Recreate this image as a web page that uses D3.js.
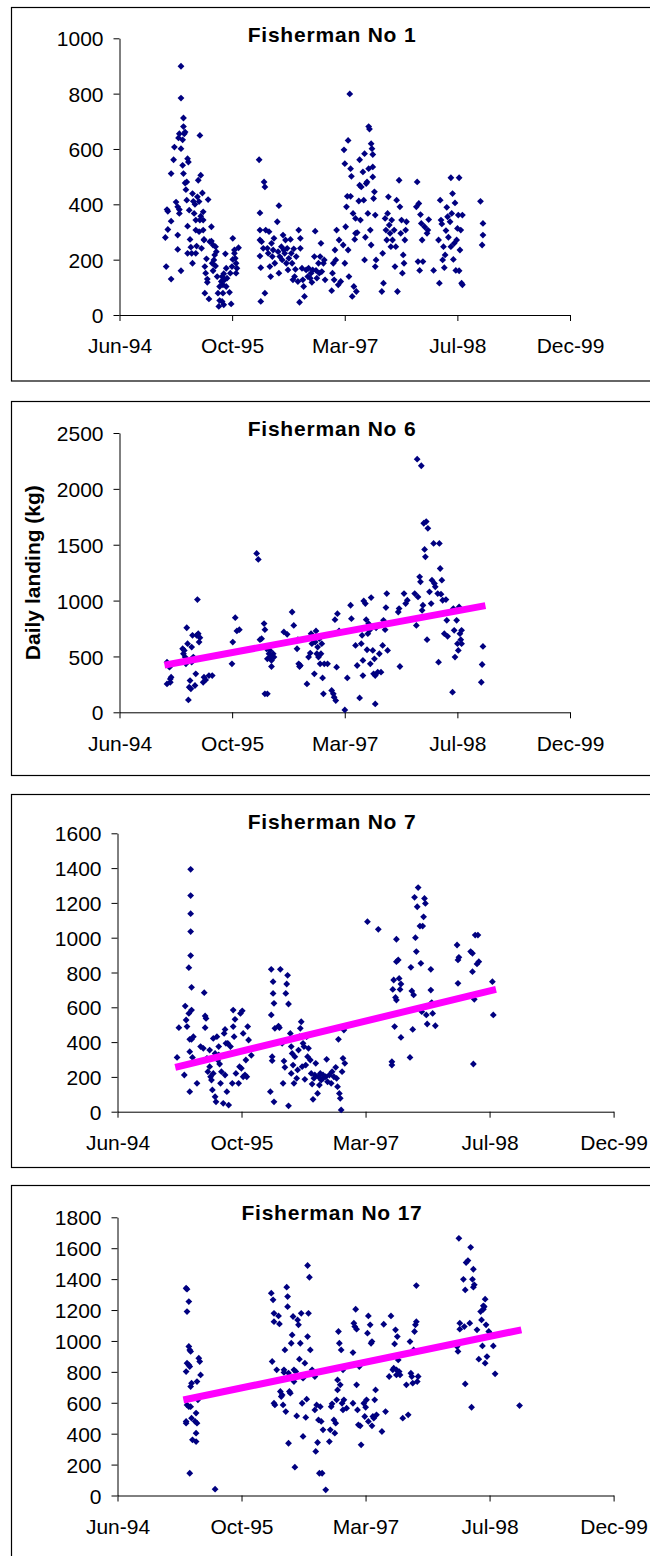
<!DOCTYPE html>
<html>
<head>
<meta charset="utf-8">
<script src="https://cdn.jsdelivr.net/npm/d3@7"></script>
<style>
  html, body { margin: 0; padding: 0; background: #fff; }
  svg { display: block; }
</style>
</head>
<body>
<svg id="chart" width="650" height="1556"></svg>
<script>
// ---- Data -------------------------------------------------------------
// x values are decimal years, y values are daily landings in kg.

const axisStart = "1994-06-15";
const axisEnd = "1999-12-06";
const dateTicks = ["1994-06-15", "1995-10-28", "1997-03-11", "1998-07-24", "1999-12-06"];

const titles = ["Fisherman No 1", "Fisherman No 6", "Fisherman No 7", "Fisherman No 17"];
const yMaxima = [1000, 2500, 1600, 1800];
const yTickSteps = [200, 500, 200, 200];
const yAxisTitle = "Daily landing (kg)";

const fisher1 = [
  [1995.01,280],[1995.02,175],[1995.03,381],[1995.04,375],[1995.04,309],[1995.08,130],[1995.08,339],[1995.08,511],
  [1995.11,561],[1995.12,607],[1995.14,408],[1995.16,237],[1995.16,289],[1995.16,391],[1995.18,381],[1995.18,367],
  [1995.17,640],[1995.18,655],[1995.20,160],[1995.20,899],[1995.20,784],[1995.20,601],[1995.22,633],[1995.22,541],
  [1995.23,712],[1995.23,681],[1995.23,511],[1995.24,655],[1995.25,661],[1995.25,477],[1995.26,453],[1995.27,481],
  [1995.27,415],[1995.28,223],[1995.28,321],[1995.28,565],[1995.29,553],[1995.30,379],[1995.31,273],[1995.32,245],
  [1995.33,223],[1995.34,187],[1995.34,439],[1995.35,411],[1995.36,367],[1995.37,400],[1995.38,223],[1995.38,307],
  [1995.38,343],[1995.39,249],[1995.40,427],[1995.41,487],[1995.42,410],[1995.42,301],[1995.43,649],[1995.43,343],
  [1995.44,505],[1995.44,357],[1995.45,241],[1995.46,441],[1995.47,343],[1995.47,373],[1995.47,307],[1995.48,271],
  [1995.48,273],[1995.49,175],[1995.49,79],[1995.50,151],[1995.51,203],[1995.52,130],[1995.52,118],[1995.53,417],
  [1995.54,58],[1995.55,265],[1995.57,319],[1995.57,267],[1995.58,187],[1995.59,160],[1995.59,253],[1995.60,199],
  [1995.61,217],[1995.62,247],[1995.62,177],[1995.63,229],
  [1995.64,139],[1995.65,79],[1995.66,31],[1995.67,52],[1995.67,103],[1995.69,121],[1995.70,139],[1995.70,49],
  [1995.71,79],[1995.71,109],[1995.72,149],[1995.72,37],[1995.73,127],[1995.74,221],[1995.75,169],[1995.75,103],
  [1995.76,133],[1995.79,82],[1995.80,151],[1995.81,40],[1995.82,175],[1995.83,277],[1995.83,201],[1995.85,235],
  [1995.85,223],[1995.86,205],[1995.87,187],[1995.87,151],[1995.88,169],[1995.90,243],
  [1996.15,561],[1996.16,369],[1996.16,307],[1996.16,271],[1996.16,213],[1996.17,171],[1996.17,49],[1996.18,265],
  [1996.20,241],[1996.21,481],[1996.22,463],[1996.22,79],[1996.23,307],[1996.25,241],[1996.26,223],[1996.27,301],
  [1996.28,175],[1996.29,139],[1996.30,259],[1996.31,211],[1996.32,235],[1996.33,277],[1996.34,187],[1996.37,337],
  [1996.38,229],[1996.39,395],[1996.39,151],[1996.40,211],[1996.42,247],[1996.43,199],[1996.44,289],[1996.45,235],
  [1996.46,223],[1996.47,271],[1996.48,187],[1996.49,241],[1996.50,163],[1996.51,205],[1996.53,273],[1996.54,223],
  [1996.55,187],[1996.56,127],[1996.57,239],[1996.58,139],[1996.59,165],[1996.60,211],[1996.62,121],[1996.63,307],
  [1996.64,46],[1996.65,241],[1996.65,277],
  [1996.67,169],[1996.68,127],[1996.69,103],[1996.70,67],[1996.72,163],[1996.74,139],[1996.75,169],[1996.77,133],
  [1996.78,151],[1996.79,118],[1996.80,163],[1996.82,211],[1996.83,303],[1996.84,161],[1996.85,133],[1996.87,187],
  [1996.88,151],[1996.89,211],[1996.90,259],[1996.91,157],[1996.93,187],[1996.94,199],[1996.95,127],[1997.03,88],
  [1997.04,151],[1997.05,187],[1997.06,127],[1997.07,235],[1997.08,199],[1997.09,307],[1997.11,109],[1997.12,271],
  [1997.14,121],
  [1997.17,253],[1997.18,597],[1997.19,187],[1997.19,547],[1997.20,319],[1997.21,391],[1997.22,429],[1997.23,631],
  [1997.23,235],[1997.24,139],[1997.25,799],[1997.26,429],[1997.26,529],[1997.27,501],[1997.28,67],[1997.29,367],
  [1997.30,103],[1997.31,273],[1997.32,349],[1997.32,295],[1997.33,85],[1997.34,298],[1997.36,412],[1997.37,561],
  [1997.37,469],[1997.38,343],[1997.39,463],[1997.41,517],[1997.42,415],[1997.43,199],[1997.43,583],[1997.44,281],
  [1997.45,475],[1997.46,481],[1997.47,367],[1997.48,681],[1997.48,529],[1997.49,672],[1997.50,307],[1997.51,253],
  [1997.51,619],[1997.52,601],[1997.53,535],[1997.53,580],[1997.53,499],[1997.54,421],[1997.55,445],[1997.56,361],
  [1997.56,175],[1997.57,199],
  [1997.64,85],[1997.65,223],[1997.66,115],[1997.68,349],[1997.69,307],[1997.70,271],[1997.71,367],[1997.72,427],
  [1997.73,325],[1997.74,295],[1997.75,247],[1997.76,343],[1997.77,271],[1997.79,307],[1997.80,175],[1997.81,247],
  [1997.82,415],[1997.83,85],[1997.85,487],[1997.86,391],[1997.87,295],[1997.88,343],[1997.89,151],[1997.90,217],
  [1997.91,187],[1997.92,271],[1997.93,307],[1997.94,337],
  [1998.06,391],[1998.07,481],[1998.08,193],[1998.09,403],[1998.10,161],[1998.11,363],[1998.12,331],[1998.13,271],
  [1998.14,193],[1998.16,319],[1998.19,295],[1998.20,307],[1998.21,345],
  [1998.27,161],[1998.33,271],[1998.34,115],[1998.35,415],[1998.36,343],[1998.37,329],[1998.38,199],[1998.39,247],
  [1998.40,171],[1998.41,217],[1998.42,305],[1998.43,389],[1998.44,355],[1998.45,281],[1998.47,337],[1998.48,247],
  [1998.48,496],[1998.49,367],[1998.50,439],[1998.51,201],[1998.52,259],[1998.53,405],[1998.54,161],[1998.55,271],
  [1998.56,313],[1998.57,361],[1998.58,496],[1998.58,160],[1998.59,235],[1998.60,307],[1998.61,115],[1998.62,361],
  [1998.62,109],
  [1998.84,411],[1998.86,253],[1998.87,289],[1998.87,331]
];

const fisher6 = [
  [1995.03,449],[1995.03,254],[1995.06,404],[1995.07,299],[1995.07,269],[1995.08,314],[1995.22,569],[1995.23,524],
  [1995.24,554],[1995.25,494],[1995.26,434],[1995.27,757],[1995.28,614],[1995.29,111],[1995.30,225],[1995.31,284],
  [1995.32,210],[1995.33,584],[1995.33,449],[1995.34,689],[1995.35,494],[1995.37,240],[1995.38,344],[1995.39,689],
  [1995.40,1009],[1995.41,704],[1995.42,629],[1995.43,668],[1995.47,269],[1995.48,314],[1995.50,290],[1995.54,329],
  [1995.58,329],
  [1995.82,434],[1995.83,629],[1995.86,847],[1995.88,728],[1995.91,740],
  [1996.12,1422],[1996.14,1368],[1996.16,650],[1996.18,659],[1996.21,794],[1996.22,740],[1996.22,165],[1996.24,569],
  [1996.25,165],[1996.25,479],[1996.27,524],[1996.28,554],[1996.29,494],[1996.30,410],[1996.30,464],[1996.32,524],
  [1996.33,494],
  [1996.45,719],[1996.49,698],[1996.55,898],[1996.57,778],[1996.61,569],[1996.62,650],[1996.63,434],[1996.64,410],
  [1996.65,419],
  [1996.73,254],[1996.75,494],[1996.77,530],[1996.78,704],[1996.79,614],[1996.81,659],[1996.82,344],[1996.83,629],
  [1996.84,728],[1996.85,524],[1996.86,584],[1996.87,494],[1996.88,659],[1996.89,434],[1996.90,524],[1996.91,614],
  [1996.92,308],[1996.93,165],[1996.94,434],[1996.98,434],[1997.03,195],[1997.05,165],[1997.06,135],[1997.07,829],
  [1997.08,105],[1997.09,404],[1997.10,883],[1997.12,728],[1997.19,21],[1997.22,308],[1997.26,958],[1997.27,838],
  [1997.32,599],[1997.34,419],[1997.37,129],[1997.39,614],[1997.40,689],[1997.41,464],[1997.41,329],[1997.42,997],
  [1997.44,973],[1997.45,829],[1997.46,560],[1997.47,704],[1997.48,793],[1997.49,734],[1997.50,434],[1997.51,1027],
  [1997.53,554],[1997.54,344],[1997.55,479],[1997.56,329],[1997.56,75],[1997.57,757],[1997.59,359],[1997.61,524],
  [1997.63,359],[1997.65,599],[1997.66,823],[1997.68,740],[1997.69,937],[1997.70,1063],[1997.71,554],
  [1997.84,898],[1997.85,928],[1997.86,410],[1997.91,1063],[1997.93,973],[1997.95,1003],[1998.04,1063],[1998.06,778],
  [1998.07,2266],[1998.08,1033],[1998.10,1213],[1998.11,1168],[1998.12,2207],[1998.13,913],[1998.14,958],[1998.15,1692],
  [1998.16,1458],[1998.17,1392],[1998.18,1707],[1998.19,650],[1998.20,1647],[1998.22,1078],[1998.24,973],[1998.25,1183],
  [1998.27,1512],[1998.28,1153],[1998.29,1123],[1998.32,1063],[1998.33,449],[1998.34,1512],[1998.35,1287],[1998.36,1057],
  [1998.37,1183],[1998.38,1003],[1998.40,704],[1998.42,1009],[1998.43,823],[1998.44,680],[1998.50,180],[1998.51,928],
  [1998.52,734],[1998.53,494],[1998.55,823],[1998.56,614],[1998.57,554],[1998.58,943],[1998.59,704],[1998.60,650],
  [1998.61,734],[1998.61,614],
  [1998.85,269],[1998.86,428],[1998.87,590]
];

const fisher7 = [
  [1995.11,312],[1995.13,483],[1995.19,211],[1995.20,607],[1995.21,527],[1995.22,489],[1995.24,565],[1995.24,828],
  [1995.25,115],[1995.25,345],[1995.25,416],[1995.26,1393],[1995.26,1242],[1995.26,1138],[1995.26,1035],[1995.26,897],
  [1995.27,715],[1995.27,584],[1995.27,416],[1995.28,312],[1995.29,431],[1995.33,163],[1995.37,374],[1995.40,364],
  [1995.41,684],[1995.42,483],[1995.42,550],[1995.43,536],[1995.44,307],[1995.45,230],[1995.47,354],[1995.47,259],
  [1995.48,201],[1995.49,182],[1995.50,125],[1995.51,421],[1995.51,220],[1995.53,86],[1995.53,335],[1995.54,57],
  [1995.55,431],[1995.56,297],[1995.57,374],[1995.57,326],[1995.58,274],[1995.59,163],[1995.60,230],[1995.62,48],
  [1995.63,450],[1995.64,473],[1995.64,211],[1995.65,393],[1995.66,115],[1995.67,393],[1995.68,38],[1995.70,374],
  [1995.72,163],[1995.73,584],[1995.73,489],[1995.74,431],[1995.75,531],[1995.76,220],[1995.79,163],[1995.80,259],
  [1995.81,565],[1995.82,249],[1995.83,580],[1995.84,450],[1995.84,201],[1995.86,211],[1995.87,297],[1995.88,201],
  [1995.89,489],[1995.90,412],[1995.93,324],
  [1996.14,115],[1996.15,818],[1996.15,556],[1996.16,293],[1996.16,316],[1996.17,747],[1996.17,680],[1996.18,623],
  [1996.18,57],[1996.19,479],[1996.23,492],[1996.24,483],[1996.25,818],[1996.27,393],[1996.28,163],[1996.29,291],
  [1996.30,255],[1996.31,680],[1996.32,734],[1996.33,784],[1996.34,619],[1996.34,34],[1996.36,450],[1996.37,374],
  [1996.37,220],[1996.38,335],[1996.39,268],[1996.40,163],[1996.41,316],[1996.43,192],[1996.44,240],[1996.45,354],
  [1996.46,431],[1996.47,479],[1996.48,517],[1996.49,259],[1996.50,393],[1996.51,374],[1996.52,186],[1996.53,268],
  [1996.54,431],[1996.55,316],[1996.56,364],[1996.58,297],[1996.59,220],[1996.60,159],[1996.61,71],[1996.62,192],
  [1996.63,211],[1996.64,278],[1996.66,105],[1996.67,201],[1996.68,153],[1996.69,220],[1996.70,182],[1996.72,211],
  [1996.72,192],[1996.75,201],[1996.76,301],[1996.77,172],[1996.79,211],[1996.81,163],[1996.82,230],[1996.84,201],
  [1996.86,255],[1996.87,192],[1996.88,144],[1996.89,416],[1996.90,105],[1996.91,77],[1996.92,10],[1996.93,230],
  [1996.94,307],[1996.95,469],[1996.96,278],
  [1997.21,1092],[1997.33,1048],[1997.48,268],[1997.48,287],[1997.49,703],[1997.50,757],[1997.51,489],[1997.52,657],
  [1997.53,642],[1997.53,991],[1997.53,862],[1997.55,872],[1997.56,766],[1997.57,703],[1997.58,734],[1997.58,427],
  [1997.68,312],[1997.69,830],[1997.70,694],[1997.71,473],[1997.72,671],[1997.73,1232],[1997.74,1000],[1997.75,920],
  [1997.76,1178],[1997.77,1288],[1997.79,1067],[1997.80,853],[1997.81,575],[1997.82,1067],[1997.83,1120],[1997.84,1226],
  [1997.85,1197],[1997.86,556],[1997.87,504],[1997.91,818],[1997.91,699],[1997.92,627],[1997.93,565],[1997.96,494],
  [1998.20,958],[1998.21,872],[1998.21,738],[1998.22,887],[1998.35,920],[1998.37,910],[1998.37,805],[1998.38,274],
  [1998.39,646],[1998.40,1015],[1998.43,1015],[1998.42,849],[1998.44,862],[1998.59,747],[1998.60,556]
];

const fisher17 = [
  [1995.21,1341],[1995.22,1335],[1995.22,1190],[1995.24,1255],[1995.21,802],[1995.22,856],[1995.24,845],[1995.24,964],
  [1995.25,942],[1995.26,932],[1995.26,705],[1995.27,727],[1995.25,834],[1995.21,468],[1995.21,479],[1995.22,586],
  [1995.24,575],[1995.26,575],[1995.27,500],[1995.28,360],[1995.31,479],[1995.32,349],[1995.32,403],[1995.33,468],
  [1995.33,737],[1995.34,619],[1995.35,888],[1995.36,867],[1995.37,780],[1995.25,144],[1995.32,533],[1995.53,41],
  [1996.15,1309],[1996.16,867],[1996.17,1266],[1996.18,1179],[1996.18,1125],[1996.18,597],[1996.19,586],[1996.21,813],
  [1996.23,1162],[1996.24,1110],[1996.25,673],[1996.26,640],[1996.27,651],[1996.28,586],[1996.29,813],[1996.29,796],
  [1996.30,942],[1996.31,543],[1996.32,1348],[1996.33,1287],[1996.33,1222],[1996.34,338],[1996.34,792],[1996.35,673],
  [1996.36,662],[1996.37,985],[1996.38,1039],[1996.39,1158],[1996.40,813],[1996.40,737],[1996.41,183],[1996.42,802],
  [1996.43,515],[1996.44,1136],[1996.45,1104],[1996.46,882],[1996.47,985],[1996.48,1179],[1996.49,597],[1996.50,759],
  [1996.50,382],[1996.52,856],[1996.53,505],[1996.54,623],[1996.55,1488],[1996.55,1028],[1996.56,1179],[1996.57,1412],
  [1996.58,942],[1996.59,792],[1996.60,813],[1996.63,770],[1996.63,554],[1996.64,285],[1996.65,586],[1996.66,343],
  [1996.67,489],[1996.68,144],[1996.69,575],[1996.70,479],[1996.71,144],[1996.72,425],[1996.75,37],[1996.79,349],
  [1996.80,425],[1996.81,575],[1996.82,593],[1996.84,489],[1996.85,403],[1996.86,468],[1996.87,619],[1996.88,748],
  [1996.88,683],[1996.89,1061],[1996.90,985],[1996.91,716],[1996.92,942],[1996.93,597],[1996.94,813],[1996.94,554],
  [1996.95,619],[1996.98,565],
  [1997.05,597],[1997.05,925],[1997.06,1115],[1997.07,1093],[1997.08,1205],[1997.09,716],[1997.09,1076],[1997.10,554],
  [1997.11,457],[1997.12,834],[1997.13,451],[1997.14,328],[1997.17,597],[1997.18,511],[1997.19,571],[1997.20,619],
  [1997.21,1050],[1997.22,479],[1997.22,1162],[1997.24,1104],[1997.25,985],[1997.26,451],[1997.26,996],[1997.27,511],
  [1997.28,500],[1997.29,619],[1997.30,683],[1997.31,522],[1997.37,414],[1997.39,1108],[1997.41,543],[1997.45,770],
  [1997.47,1162],[1997.49,813],[1997.50,824],[1997.51,981],[1997.52,1072],[1997.53,813],[1997.53,780],[1997.54,1028],
  [1997.55,877],[1997.56,802],[1997.57,780],[1997.60,500],[1997.64,716],[1997.66,522],[1997.68,996],[1997.69,791],
  [1997.70,770],[1997.71,727],[1997.72,942],[1997.73,1061],[1997.74,1104],[1997.75,1125],[1997.75,1358],[1997.76,737],
  [1997.77,770],
  [1998.20,964],[1998.21,932],[1998.22,1664],[1998.23,1115],[1998.23,1076],[1998.27,1399],[1998.28,1093],[1998.29,722],
  [1998.29,1330],[1998.30,1507],[1998.32,1520],[1998.34,1115],[1998.35,1606],[1998.36,571],[1998.37,1399],[1998.38,1464],
  [1998.38,1348],[1998.39,1363],[1998.42,1072],[1998.44,882],[1998.46,1190],[1998.47,1136],[1998.48,968],[1998.49,1227],
  [1998.49,1205],[1998.50,1222],[1998.51,1270],[1998.51,856],[1998.52,1104],[1998.53,899],[1998.55,1061],[1998.58,1039],
  [1998.60,968],[1998.62,787],[1998.89,582]
];

// Linear trend end points (start and end of the fitted line)
const trend6 = [[1995.00, 422], [1998.90, 955]];
const trend7 = [[1995.09, 255], [1998.63, 703]];
const trend17 = [[1995.18, 618], [1998.91, 1072]];

// ---- Layout -----------------------------------------------------------
const FONT = "'Liberation Sans', Arial, Helvetica, sans-serif";
const frameLeft = 11.5, frameRight = 652.5;

const panels = [
  { title: titles[0], data: fisher1,  trend: null,    yMax: yMaxima[0], step: yTickSteps[0],
    frameTop: 7.5,    frameBottom: 381,  left: 119.5, right: 570,   top: 38.3,   bottom: 315,   yLabel: false },
  { title: titles[1], data: fisher6,  trend: trend6,  yMax: yMaxima[1], step: yTickSteps[1],
    frameTop: 401.5,  frameBottom: 775.5, left: 119.5, right: 570,  top: 433,    bottom: 712.3, yLabel: true },
  { title: titles[2], data: fisher7,  trend: trend7,  yMax: yMaxima[2], step: yTickSteps[2],
    frameTop: 794.5,  frameBottom: 1167.5, left: 117.5, right: 613.6, top: 833.3, bottom: 1111.7, yLabel: false },
  { title: titles[3], data: fisher17, trend: trend17, yMax: yMaxima[3], step: yTickSteps[3],
    frameTop: 1185.5, frameBottom: 1600, left: 117.5, right: 613.6, top: 1217.3, bottom: 1495.5, yLabel: false }
];

// ---- Helpers ----------------------------------------------------------
const parseDay = d3.utcParse("%Y-%m-%d");
const fmtTick = d3.utcFormat("%b-%y");

function yearToDate(y) {
  const yr = Math.floor(y);
  const a = Date.UTC(yr, 0, 1), b = Date.UTC(yr + 1, 0, 1);
  return new Date(a + (y - yr) * (b - a));
}

const diamond = "M0,-3.4L3.4,0L0,3.4L-3.4,0Z";

const svg = d3.select("#chart");

panels.forEach(p => {
  const g = svg.append("g");

  // chart border
  g.append("rect")
    .attr("x", frameLeft).attr("y", p.frameTop)
    .attr("width", frameRight - frameLeft).attr("height", p.frameBottom - p.frameTop)
    .attr("fill", "#fff").attr("stroke", "#000").attr("stroke-width", 1.2);

  const x = d3.scaleUtc()
    .domain([parseDay(axisStart), parseDay(axisEnd)])
    .range([p.left, p.right]);
  const y = d3.scaleLinear()
    .domain([0, p.yMax])
    .range([p.bottom, p.top]);

  // axes
  const yAxis = d3.axisLeft(y)
    .tickValues(d3.range(0, p.yMax + 1, p.step))
    .tickFormat(d3.format("d"))
    .tickSize(6).tickSizeOuter(0).tickPadding(10);
  const xAxis = d3.axisBottom(x)
    .tickValues(dateTicks.map(parseDay))
    .tickFormat(fmtTick)
    .tickSize(6).tickSizeOuter(0).tickPadding(17.5);

  const gy = g.append("g").attr("transform", `translate(${p.left},0)`).call(yAxis);
  const gx = g.append("g").attr("transform", `translate(0,${p.bottom})`).call(xAxis);
  [gx, gy].forEach(a => {
    a.selectAll("path, line").attr("stroke", "#000").attr("stroke-width", 1);
    a.selectAll("text")
      .attr("fill", "#000")
      .style("font-family", FONT)
      .style("font-size", "21px");
  });
  gy.selectAll("text").attr("dy", "0.36em");

  // scatter points
  g.append("g").selectAll("path")
    .data(p.data)
    .join("path")
    .attr("d", diamond)
    .attr("transform", d => `translate(${x(yearToDate(d[0]))},${y(d[1])})`)
    .attr("fill", "#000080");

  // trend line
  if (p.trend) {
    const line = d3.line()
      .x(d => x(yearToDate(d[0])))
      .y(d => y(d[1]));
    g.append("path")
      .datum(p.trend)
      .attr("d", line)
      .attr("fill", "none")
      .attr("stroke", "#FF00FF")
      .attr("stroke-width", 7);
  }

  // panel title
  g.append("text")
    .attr("x", (frameLeft + frameRight) / 2)
    .attr("y", p.frameTop + 34.5)
    .attr("text-anchor", "middle")
    .style("font-family", FONT)
    .style("font-size", "21px")
    .style("font-weight", "bold")
    .style("letter-spacing", "0.8px")
    .text(p.title);

  if (p.yLabel) {
    g.append("text")
      .attr("transform", `translate(40,${(p.top + p.bottom) / 2}) rotate(-90)`)
      .attr("text-anchor", "middle")
      .style("font-family", FONT)
      .style("font-size", "21px")
      .style("font-weight", "bold")
      .text(yAxisTitle);
  }
});
</script>
</body>
</html>
